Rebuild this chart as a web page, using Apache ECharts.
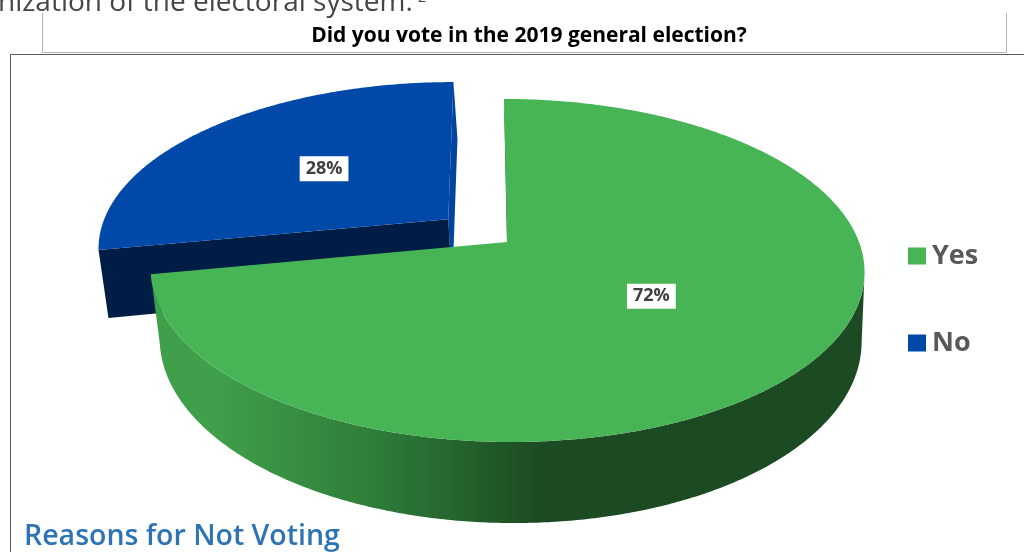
<!DOCTYPE html>
<html>
<head>
<meta charset="utf-8">
<script src="https://cdn.jsdelivr.net/npm/echarts@6/dist/echarts.min.js"></script>
<style>
  html, body { margin: 0; padding: 0; background: #ffffff; }
  #chart { width: 1024px; height: 552px; }
</style>
</head>
<body>
<div id="chart"></div>
<script>
// Survey answers: share of respondents (percent)
const categories = ['Yes', 'No'];
const shares = [72, 28];
const pulledOut = [false, true];

// Page text
const leadText = 'nization of the electoral system.';
const chartTitle = 'Did you vote in the 2019 general election?';
const nextHeading = 'Reasons for Not Voting';

// Slice styling
const sliceStyle = {
  Yes: {
    top: '#47B556',
    wall: { x0: 215, x1: 540, stops: ['#3F9F4A', '#2E7C39', '#1C4A22'] },
    face: '#1E4D23'
  },
  No: {
    top: '#0049A9',
    wall: { x0: 60, x1: 140, stops: ['#0047A6', '#003C8E', '#00306F'] },
    face: '#001E45',
    endFace: '#0044A0'
  }
};

// Perspective view of the tilted disc (pixels / unit radius)
const view = {
  ox: 507, oy: 242,      // projected pie centre
  camX: 486,             // horizontal vanishing line
  rx: 352, ry: 166.8,    // semi-axes of the rim
  persp: 0.166,          // foreshortening toward the back
  depth: 67.6,           // disc thickness
  sinkX: 689, sink: 0.0168,
  explode: 0.22,
  labelR: 0.5
};
const camU = -(view.ox - view.camX) / view.rx;
const camV = 1 / view.persp;

function project(u, v, lower) {
  const d = 1 - view.persp * v;
  let x = view.camX + (view.rx * u + (view.ox - view.camX)) / d;
  let y = view.oy + view.ry * v / d;
  if (lower) {
    x += (view.sinkX - x) * view.sink;
    y += view.depth / d;
  }
  return [x, y];
}

const total = shares.reduce((a, b) => a + b, 0);
const startAngles = [];
(function () {
  let acc = 0;
  shares.forEach(function (s) { startAngles.push(acc / total * Math.PI * 2); acc += s; });
})();

function buildSlice(idx, value) {
  const name = categories[idx];
  const st = sliceStyle[name];
  const a0 = startAngles[idx];
  const a1 = a0 + value / total * Math.PI * 2;
  const mid = (a0 + a1) / 2;
  const e = pulledOut[idx] ? view.explode : 0;
  const cu = e * Math.sin(mid), cv = -e * Math.cos(mid);
  const rim = function (t, lower) { return project(cu + Math.sin(t), cv - Math.cos(t), lower); };

  const steps = Math.max(2, Math.ceil((a1 - a0) / (Math.PI / 360)));
  const angles = [];
  for (let k = 0; k <= steps; k++) angles.push(a0 + (a1 - a0) * k / steps);

  const children = [];

  // curved outer wall: only the parts turned toward the viewer
  const facing = function (t) {
    const nu = Math.sin(t), nv = -Math.cos(t);
    return (camU - (cu + nu)) * nu + (camV - (cv + nv)) * nv > 0;
  };
  let run = [];
  const flushRun = function () {
    if (run.length > 1) {
      const pts = run.map(function (t) { return rim(t, false); })
        .concat(run.slice().reverse().map(function (t) { return rim(t, true); }));
      children.push({
        type: 'polygon',
        shape: { points: pts },
        style: {
          fill: {
            type: 'linear', global: true,
            x: st.wall.x0, y: 0, x2: st.wall.x1, y2: 0,
            colorStops: [
              { offset: 0, color: st.wall.stops[0] },
              { offset: 0.5, color: st.wall.stops[1] },
              { offset: 1, color: st.wall.stops[2] }
            ]
          }
        }
      });
    }
    run = [];
  };
  angles.forEach(function (t) { if (facing(t)) run.push(t); else flushRun(); });
  flushRun();

  // flat cut faces at both edges of the slice (farther one first)
  const cutFace = function (t, sign, color) {
    const nu = sign * Math.cos(t), nv = sign * Math.sin(t);
    if ((camU - cu) * nu + (camV - cv) * nv <= 0) return null;
    return {
      type: 'polygon',
      shape: { points: [project(cu, cv, false), rim(t, false), rim(t, true), project(cu, cv, true)] },
      style: { fill: color }
    };
  };
  const faces = [
    { t: a0, el: cutFace(a0, -1, st.face) },
    { t: a1, el: cutFace(a1, 1, st.endFace || st.face) }
  ].filter(function (f) { return f.el; })
   .sort(function (p, q) { return Math.cos(q.t) - Math.cos(p.t); });
  faces.forEach(function (f) { children.push(f.el); });

  // top face
  const topPts = [project(cu, cv, false)].concat(angles.map(function (t) { return rim(t, false); }));
  children.push({ type: 'polygon', shape: { points: topPts }, style: { fill: st.top } });

  // percentage label
  const lp = project(cu + view.labelR * Math.sin(mid), cv - view.labelR * Math.cos(mid), false);
  children.push({
    type: 'text',
    style: {
      text: Math.round(value / total * 100) + '%',
      x: lp[0], y: lp[1] - 2,
      align: 'center', verticalAlign: 'middle',
      fill: '#404040',
      font: 'bold 18px "Open Sans"',
      backgroundColor: '#ffffff',
      padding: [4, 6, 3, 6]
    }
  });

  return { type: 'group', children: children };
}

// Slices nearer the viewer are painted later
const series = categories.map(function (name, i) {
  const a0 = startAngles[i];
  const mid = a0 + shares[i] / total * Math.PI;
  return {
    type: 'custom',
    name: name,
    coordinateSystem: 'none',
    z: 2 + (-Math.cos(mid) + 1),
    itemStyle: { color: sliceStyle[name].top },
    data: [shares[i]],
    renderItem: function (params, api) { return buildSlice(i, api.value(0)); }
  };
});

const chart = echarts.init(document.getElementById('chart'), null, { renderer: 'canvas' });
chart.setOption({
  animation: false,
  legend: {
    data: categories,
    orient: 'vertical',
    left: 908,
    top: 241,
    padding: 0,
    itemWidth: 18,
    itemHeight: 17,
    itemGap: 57,
    icon: 'rect',
    selectedMode: false,
    textStyle: { fontFamily: 'Open Sans', fontWeight: 'bold', fontSize: 27, color: '#595959', lineHeight: 30, padding: [0, 0, 0, 1] }
  },
  graphic: [
    {
      type: 'text', x: -2, y: 3, silent: true,
      style: { text: leadText, font: '400 28px "Open Sans"', fill: '#454545', align: 'left', verticalAlign: 'middle' }
    },
    {
      type: 'text', x: 418, y: -2, silent: true,
      style: { text: '2', font: '400 14px "Open Sans"', fill: '#454545', align: 'left', verticalAlign: 'middle' }
    },
    {
      type: 'polyline', silent: true,
      shape: { points: [[42.5, 13], [42.5, 52.5], [1006.5, 52.5], [1006.5, 13]] },
      style: { stroke: '#b4b4b4', lineWidth: 1, fill: null }
    },
    {
      type: 'text', x: 529, y: 36, silent: true,
      style: { text: chartTitle, font: 'bold 21px "Open Sans"', fill: '#000000', align: 'center', verticalAlign: 'middle' }
    },
    {
      type: 'rect', silent: true,
      shape: { x: 10.5, y: 54.5, width: 1100, height: 600 },
      style: { stroke: '#5a5a5a', lineWidth: 1, fill: null }
    },
    {
      type: 'text', x: 24, y: 537, silent: true,
      style: { text: nextHeading, font: '600 28.5px "Open Sans"', fill: '#2E74B5', align: 'left', verticalAlign: 'middle' }
    }
  ],
  series: series
});
</script>
</body>
</html>
